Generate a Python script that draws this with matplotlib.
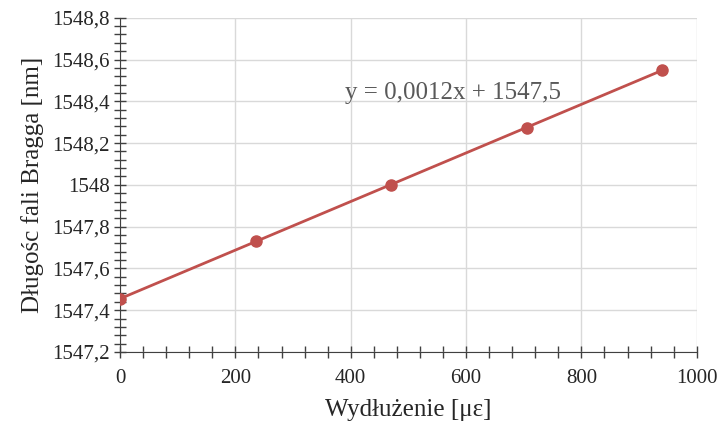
import numpy as np
import matplotlib.pyplot as plt
from matplotlib.ticker import MultipleLocator, FuncFormatter

wydluzenie = [0, 235, 470, 705, 940]
dlugosc = [1547.455, 1547.73, 1548.0, 1548.273, 1548.55]
rownanie = 'y = 0,0012x + 1547,5'

plt.rcParams['font.family'] = ['Liberation Serif', 'DejaVu Serif']
kolor = '#c0504d'

fig = plt.figure(figsize=(7.19, 4.23), dpi=100)
ax = fig.add_axes([0.167, 0.168, 0.802, 0.79])

a, b = np.polyfit(wydluzenie, dlugosc, 1)
xs = np.array([min(wydluzenie), max(wydluzenie)])
ax.plot(xs, a * xs + b, color=kolor, lw=2, zorder=3)
ax.plot(wydluzenie, dlugosc, 'o', color=kolor, ms=8, zorder=4)

ax.set_xlim(0, 1000)
ax.set_ylim(1547.2, 1548.8)
ax.xaxis.set_major_locator(MultipleLocator(200))
ax.xaxis.set_minor_locator(MultipleLocator(40))
ax.yaxis.set_major_locator(MultipleLocator(0.2))
ax.yaxis.set_minor_locator(MultipleLocator(0.04))
fmt = FuncFormatter(lambda v, p: f'{round(v, 1):g}'.replace('.', ','))
ax.yaxis.set_major_formatter(fmt)

ax.grid(True, which='major', color='#d9d9d9', lw=1)
ax.set_axisbelow(True)
for s in ['top', 'right']:
    ax.spines[s].set_visible(False)
for s in ['left', 'bottom']:
    ax.spines[s].set_color('#404040')
ax.tick_params(which='both', direction='inout', length=8, width=1, color='#404040',
               labelsize=15, labelcolor='#262626')
ax.tick_params(axis='x', pad=8)

ax.set_xlabel('Wydłużenie [με]', fontsize=18, color='#262626', labelpad=8)
ax.set_ylabel('Długośc fali Bragga [nm]', fontsize=18, color='#262626', labelpad=6)
ax.text(390, 1548.41, rownanie, fontsize=18, color='#595959')

fig.savefig('out.png', dpi=100)
